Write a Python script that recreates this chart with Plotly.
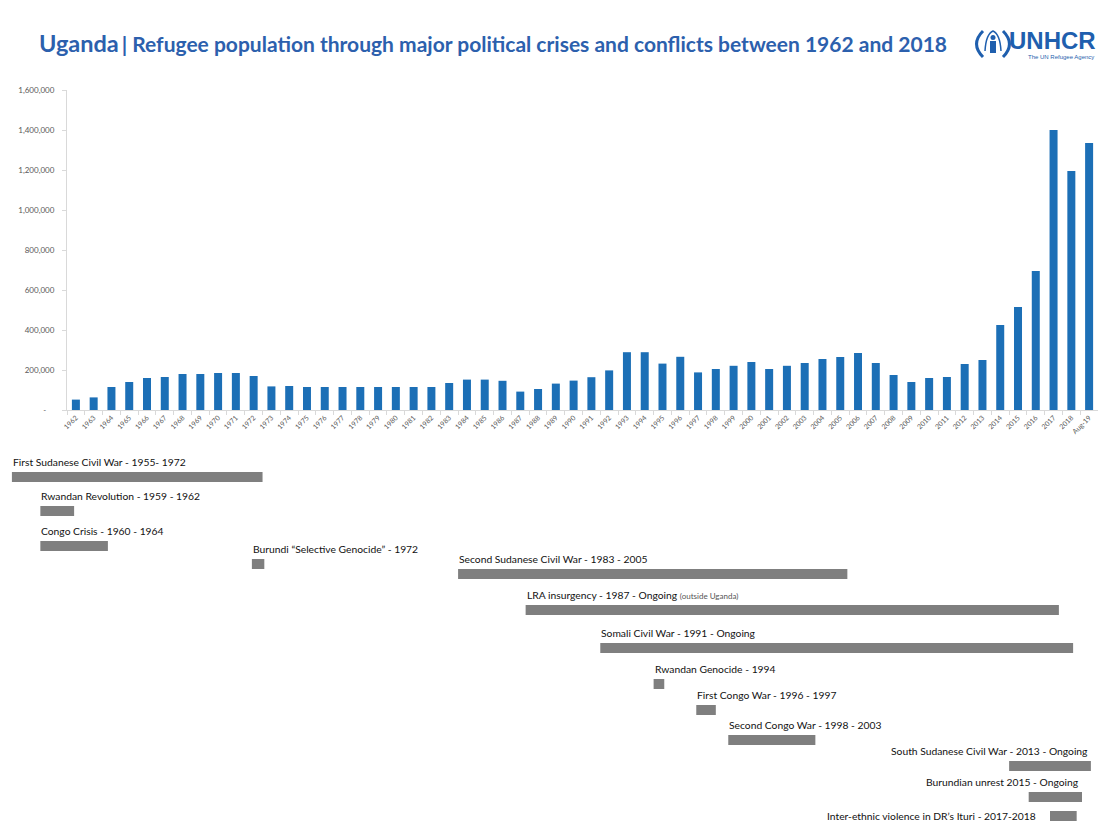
import plotly.graph_objects as go

# ---------------- data ----------------
year_labels = ["1962", "1963", "1964", "1965", "1966", "1967", "1968", "1969", "1970", "1971",
               "1972", "1973", "1974", "1975", "1976", "1977", "1978", "1979", "1980", "1981",
               "1982", "1983", "1984", "1985", "1986", "1987", "1988", "1989", "1990", "1991",
               "1992", "1993", "1994", "1995", "1996", "1997", "1998", "1999", "2000", "2001",
               "2002", "2003", "2004", "2005", "2006", "2007", "2008", "2009", "2010", "2011",
               "2012", "2013", "2014", "2015", "2016", "2017", "2018", "Aug-19"]

refugees = [52000, 63000, 115000, 140000, 160000, 165000, 180000, 180000, 185000, 185000,
            170000, 118000, 120000, 115000, 115000, 115000, 115000, 115000, 115000, 115000,
            115000, 135000, 152000, 152000, 146000, 92000, 105000, 132000, 147000, 164000,
            198000, 289000, 289000, 232000, 266000, 188000, 205000, 221000, 240000, 205000,
            221000, 235000, 255000, 265000, 285000, 235000, 175000, 140000, 160000, 165000,
            230000, 250000, 425000, 515000, 695000, 1400000, 1195000, 1335000]

y_tickvals = [0, 200000, 400000, 600000, 800000, 1000000, 1200000, 1400000, 1600000]
y_ticktext = ["-\u00a0\u00a0\u00a0\u00a0", "200,000", "400,000", "600,000", "800,000",
              "1,000,000", "1,200,000", "1,400,000", "1,600,000"]

conflicts = [
    "First Sudanese Civil War - 1955- 1972",
    "Rwandan Revolution - 1959 - 1962",
    "Congo Crisis - 1960 - 1964",
    "Burundi \u201cSelective Genocide\u201d - 1972",
    "Second Sudanese Civil War - 1983 - 2005",
    "LRA insurgency - 1987 - Ongoing <span style='font-size:8px;color:#555'>(outside Uganda)</span>",
    "Somali Civil War - 1991 - Ongoing",
    "Rwandan Genocide - 1994",
    "First Congo War - 1996 - 1997",
    "Second Congo War - 1998 - 2003",
    "South Sudanese Civil War - 2013 - Ongoing",
    "Burundian unrest 2015 - Ongoing",
    "Inter-ethnic violence in DR\u2019s Ituri - 2017-2018",
]
span_start = [1958.4, 1960.0, 1960.0, 1971.9, 1983.5, 1987.3, 1991.5, 1994.5, 1996.9, 1998.7, 2014.5, 2015.6, 2016.8]
span_end = [1972.5, 1961.9, 1963.8, 1972.6, 2005.4, 2017.3, 2018.1, 1995.1, 1998.0, 2003.6, 2019.1, 2018.6, 2018.3]

# vertical lane of each conflict bar (layout)
lane = [3.7, 7.1, 10.6, 12.4, 13.4, 17.0, 20.8, 24.4, 27.0, 30.0, 32.6, 35.7, 37.6]
label_side = ["above", "above", "above", "above", "above", "above", "above",
              "above", "above", "above", "above_right", "above_right", "left"]

# ---------------- figure ----------------
W, H = 1098, 832
BAR_BLUE = "#1c6fb6"
GRAY_BAR = "#7f7f7f"
TITLE_BLUE = "#2c60ad"

fig = go.Figure()

fig.add_trace(go.Bar(
    x=year_labels, y=refugees, marker=dict(color=BAR_BLUE, line=dict(width=0)),
    xaxis="x", yaxis="y", showlegend=False, hoverinfo="x+y"))

fig.add_trace(go.Bar(
    orientation="h", y=lane, x=[e - s for s, e in zip(span_start, span_end)], base=span_start,
    width=1.0, marker=dict(color=GRAY_BAR, line=dict(width=0)),
    xaxis="x2", yaxis="y2", showlegend=False, hoverinfo="skip"))

annotations = []
for name, s, e, ln, side in zip(conflicts, span_start, span_end, lane, label_side):
    a = dict(text=name, xref="x2", yref="y2", y=ln, showarrow=False, yanchor="middle",
             font=dict(family="Lato", size=10.3, color="#111111"))
    if side == "above":
        a.update(x=s, xanchor="left", yshift=15, xshift=-1)
    elif side == "above_right":
        a.update(x=e, xanchor="right", yshift=15, xshift=-1)
    else:
        a.update(x=s, xanchor="right", xshift=-12)
    annotations.append(a)

# title
annotations.append(dict(
    text="<b><span style='font-size:23.5px'>Uganda</span> <span style='font-size:21px'>| Refugee population through major political crises and conflicts between 1962 and 2018</span></b>",
    xref="paper", yref="paper", x=37 / W, y=1 - 43 / H, xanchor="left", yanchor="middle",
    showarrow=False, font=dict(family="Lato", color=TITLE_BLUE)))

# UNHCR logo text
annotations.append(dict(
    text="<b>UNHCR</b>", xref="paper", yref="paper", x=1098 / W, y=1 - 41 / H,
    xanchor="right", yanchor="middle", showarrow=False,
    font=dict(family="Liberation Sans", size=24, color="#1f5fae")))
annotations.append(dict(
    text="The UN Refugee Agency", xref="paper", yref="paper", x=1096 / W, y=1 - 57 / H,
    xanchor="right", yanchor="middle", showarrow=False,
    font=dict(family="Liberation Sans", size=6, color="#1f5fae")))

def px(x):
    return x / W

def py(y):
    return 1 - y / H

shapes = [
    # laurel arcs
    dict(type="path", xref="paper", yref="paper",
         path=f"M {px(983)},{py(31)} Q {px(970)},{py(44)} {px(983)},{py(57)}",
         line=dict(color="#1f5fae", width=3)),
    dict(type="path", xref="paper", yref="paper",
         path=f"M {px(1003)},{py(31)} Q {px(1016)},{py(44)} {px(1003)},{py(57)}",
         line=dict(color="#1f5fae", width=3)),
    # person
    dict(type="circle", xref="paper", yref="paper", x0=px(990.5), x1=px(995.5), y0=py(40), y1=py(35),
         fillcolor="#1f5fae", line=dict(width=0)),
    dict(type="rect", xref="paper", yref="paper", x0=px(990), x1=px(996), y0=py(53), y1=py(41),
         fillcolor="#1f5fae", line=dict(width=0)),
    # sheltering hands
    dict(type="path", xref="paper", yref="paper",
         path=f"M {px(985)},{py(51)} Q {px(986)},{py(34)} {px(993)},{py(31)} Q {px(1000)},{py(34)} {px(1001)},{py(51)}",
         line=dict(color="#1f5fae", width=1.5)),
]

fig.update_layout(
    width=W, height=H, autosize=False,
    margin=dict(l=0, r=0, t=0, b=0),
    paper_bgcolor="white", plot_bgcolor="white",
    bargap=0.55,
    showlegend=False,
    annotations=annotations,
    shapes=shapes,
    xaxis=dict(domain=[67 / W, 1], anchor="y", type="category", range=[-0.5, 57.5],
               showline=True, linecolor="#d9d9d9", linewidth=1,
               ticks="outside", tickson="boundaries", ticklen=4, tickcolor="#d9d9d9",
               tickangle=-45, tickfont=dict(family="Lato", size=7, color="#595959"),
               showgrid=False, zeroline=False, automargin=False, fixedrange=True),
    yaxis=dict(domain=[1 - 410 / H, 1 - 90 / H], anchor="x", range=[0, 1600000],
               tickvals=y_tickvals, ticktext=y_ticktext,
               showline=True, linecolor="#d9d9d9", linewidth=1,
               ticks="outside", ticklen=4, tickcolor="#d9d9d9", ticklabelstandoff=6,
               tickfont=dict(family="Lato", size=8, color="#595959"),
               showgrid=False, zeroline=False, automargin=False, fixedrange=True),
    xaxis2=dict(domain=[0, 1], anchor="y2", range=[1957.73, 2019.5], visible=False, fixedrange=True),
    yaxis2=dict(domain=[0, 1 - 440 / H], anchor="x2", range=[39.2, 0], visible=False, fixedrange=True),
)

fig.write_html("out.html")
